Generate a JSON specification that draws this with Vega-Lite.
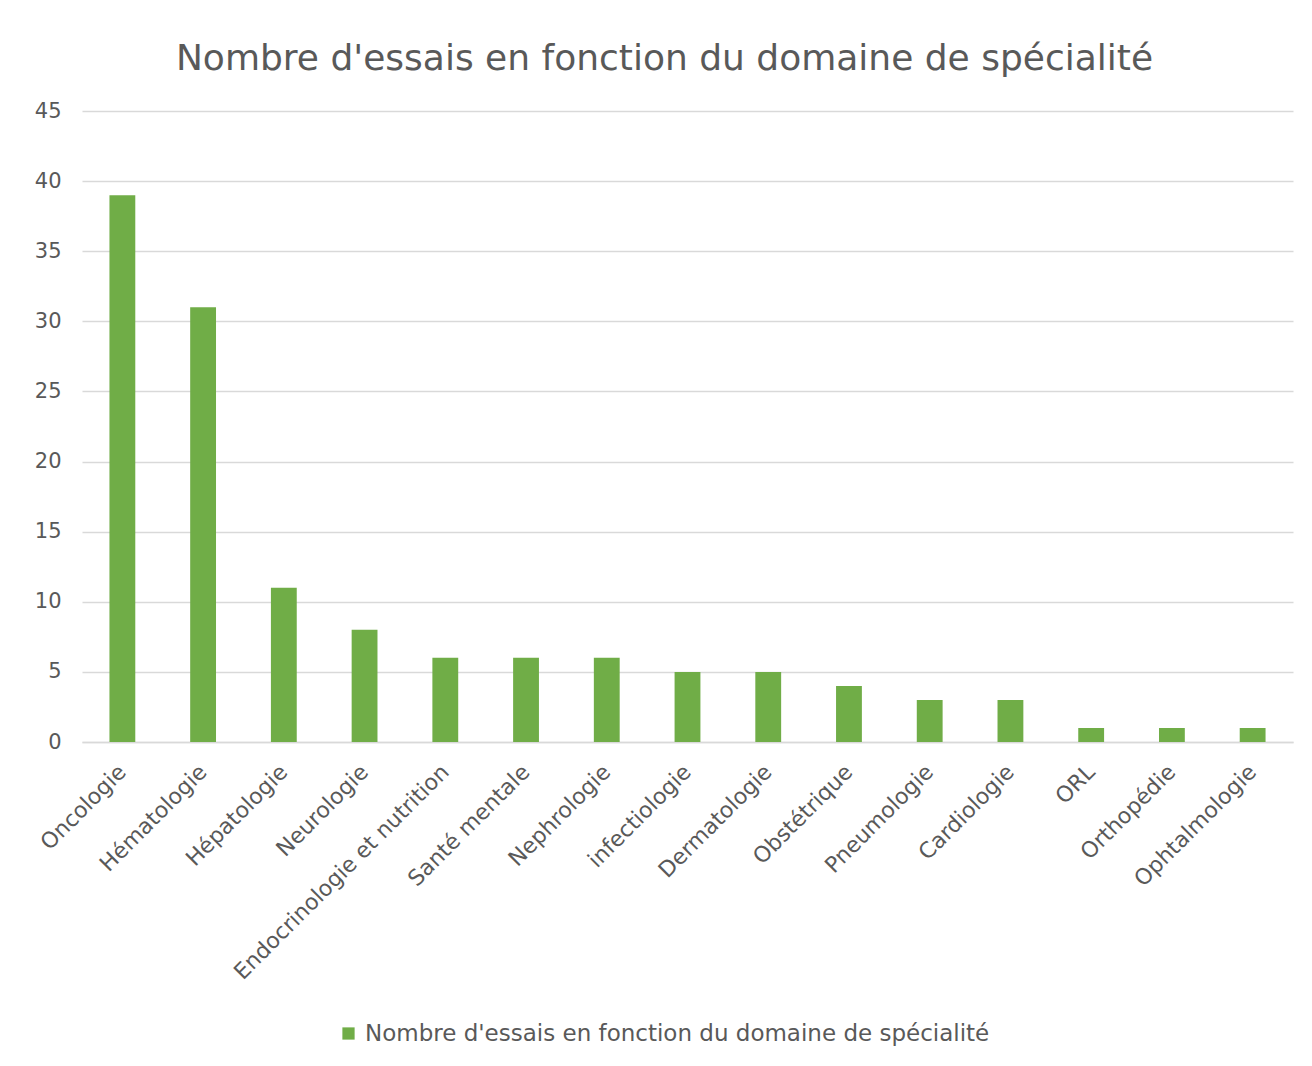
{
  "$schema": "https://vega.github.io/schema/vega-lite/v6.json",
  "width": 1211,
  "height": 631,
  "autosize": {"type": "none"},
  "padding": {"left": 82, "top": 111, "right": 19, "bottom": 324},
  "background": "white",
  "title": {
    "text": "Nombre d'essais en fonction du domaine de spécialité",
    "font": "DejaVu Sans",
    "fontSize": 36,
    "fontWeight": "normal",
    "color": "#595959",
    "anchor": "middle",
    "dx": -23,
    "offset": 22
  },
  "data": {
    "values": [
      {"domaine": "Oncologie", "n": 39, "serie": "Nombre d'essais en fonction du domaine de spécialité"},
      {"domaine": "Hématologie", "n": 31, "serie": "Nombre d'essais en fonction du domaine de spécialité"},
      {"domaine": "Hépatologie", "n": 11, "serie": "Nombre d'essais en fonction du domaine de spécialité"},
      {"domaine": "Neurologie", "n": 8, "serie": "Nombre d'essais en fonction du domaine de spécialité"},
      {"domaine": "Endocrinologie et nutrition", "n": 6, "serie": "Nombre d'essais en fonction du domaine de spécialité"},
      {"domaine": "Santé mentale", "n": 6, "serie": "Nombre d'essais en fonction du domaine de spécialité"},
      {"domaine": "Nephrologie", "n": 6, "serie": "Nombre d'essais en fonction du domaine de spécialité"},
      {"domaine": "infectiologie", "n": 5, "serie": "Nombre d'essais en fonction du domaine de spécialité"},
      {"domaine": "Dermatologie", "n": 5, "serie": "Nombre d'essais en fonction du domaine de spécialité"},
      {"domaine": "Obstétrique", "n": 4, "serie": "Nombre d'essais en fonction du domaine de spécialité"},
      {"domaine": "Pneumologie", "n": 3, "serie": "Nombre d'essais en fonction du domaine de spécialité"},
      {"domaine": "Cardiologie", "n": 3, "serie": "Nombre d'essais en fonction du domaine de spécialité"},
      {"domaine": "ORL", "n": 1, "serie": "Nombre d'essais en fonction du domaine de spécialité"},
      {"domaine": "Orthopédie", "n": 1, "serie": "Nombre d'essais en fonction du domaine de spécialité"},
      {"domaine": "Ophtalmologie", "n": 1, "serie": "Nombre d'essais en fonction du domaine de spécialité"}
    ]
  },
  "mark": {"type": "bar"},
  "encoding": {
    "x": {
      "field": "domaine",
      "type": "nominal",
      "sort": null,
      "scale": {"paddingInner": 0.68, "paddingOuter": 0.34},
      "axis": {
        "title": null,
        "labelAngle": -45,
        "labelAlign": "right",
        "labelBaseline": "middle",
        "labelFont": "DejaVu Sans",
        "labelFontSize": 22,
        "labelColor": "#595959",
        "labelPadding": 26,
        "ticks": false,
        "domain": true,
        "domainColor": "#d9d9d9",
        "domainWidth": 1.5,
        "grid": false,
        "labelLimit": 400
      }
    },
    "y": {
      "field": "n",
      "type": "quantitative",
      "scale": {"domain": [0, 45], "nice": false},
      "axis": {
        "title": null,
        "values": [0, 5, 10, 15, 20, 25, 30, 35, 40, 45],
        "labelFont": "DejaVu Sans",
        "labelFontSize": 21,
        "labelColor": "#595959",
        "labelPadding": 21,
        "ticks": false,
        "domain": false,
        "grid": true,
        "gridColor": "#d9d9d9",
        "gridWidth": 1.5
      }
    },
    "color": {
      "field": "serie",
      "type": "nominal",
      "scale": {"range": ["#70AD47"]},
      "legend": {
        "title": null,
        "orient": "none",
        "legendX": 255,
        "legendY": 911,
        "symbolType": "square",
        "symbolSize": 150,
        "symbolStrokeWidth": 0,
        "labelFont": "DejaVu Sans",
        "labelFontSize": 23,
        "labelColor": "#595959",
        "labelOffset": 5,
        "labelLimit": 900
      }
    }
  },
  "config": {"view": {"stroke": null}}
}
